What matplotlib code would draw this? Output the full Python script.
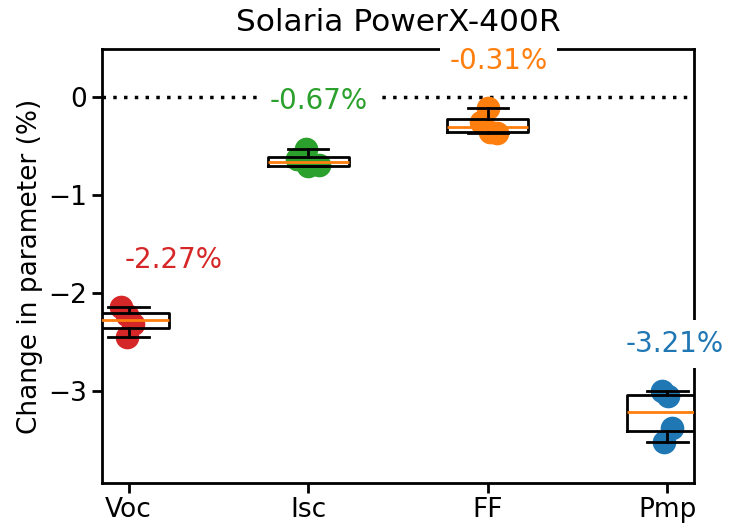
import numpy as np
import matplotlib
matplotlib.use("Agg")
import matplotlib.pyplot as plt

# Per-module change after exposure, one list per parameter
params = ["Voc", "Isc", "FF", "Pmp"]
colors = ["C3", "C2", "C1", "C0"]

voc = [-2.14, -2.22, -2.32, -2.45]
isc = [-0.53, -0.64, -0.70, -0.71]
ff = [-0.12, -0.26, -0.36, -0.37]
pmp = [-3.00, -3.05, -3.37, -3.52]

# small horizontal offsets so the dots don't sit on top of each other
voc_dx = [-0.045, -0.01, 0.025, -0.01]
isc_dx = [-0.01, -0.06, 0.06, 0.0]
ff_dx = [0.0, -0.04, 0.01, 0.05]
pmp_dx = [-0.03, 0.005, 0.025, -0.02]

# where the median labels go, relative to the category position
label_dx = [0.25, 0.06, 0.06, 0.04]

data = [voc, isc, ff, pmp]
jitter = [voc_dx, isc_dx, ff_dx, pmp_dx]

plt.rcParams["font.size"] = 19
plt.rcParams["axes.linewidth"] = 2

fig = plt.figure(figsize=(7.29, 5.31), dpi=100)
ax = fig.add_axes([0.1395, 0.091, 0.8129, 0.816])

ax.axhline(0, color="black", linestyle=(0, (1, 2.1)), linewidth=2.5, zorder=1)

positions = np.arange(1, len(params) + 1)

for pos, vals, dx, c in zip(positions, data, jitter, colors):
    ax.scatter(pos + np.array(dx), vals, s=290, color=c, zorder=2, linewidths=0)

lp = dict(linewidth=2, color="black")
ax.boxplot(data, positions=positions, whis=(0, 100), showfliers=False,
           boxprops=lp, whiskerprops=lp, capprops=lp,
           medianprops=dict(color="C1", linewidth=2), zorder=3)

for pos, vals, off, c in zip(positions, data, label_dx, colors):
    med = np.median(vals)
    ax.text(pos + off, max(vals) + 0.48, f"{med:.2f}%", color=c,
            ha="center", va="center", fontsize=20, zorder=4,
            bbox=dict(facecolor="white", edgecolor="none", boxstyle="square,pad=0.35"))

ax.set_xlim(0.85, 4.15)
ax.set_ylim(-3.93, 0.48)
ax.set_xticks(positions)
ax.set_xticklabels(params)
ax.set_yticks([0, -1, -2, -3])
ax.tick_params(length=7, width=2, labelsize=19)
ax.set_ylabel("Change in parameter (%)", fontsize=19)
ax.set_title("Solaria PowerX-400R", fontsize=22.5, pad=13)

fig.savefig("out.png", dpi=100)
